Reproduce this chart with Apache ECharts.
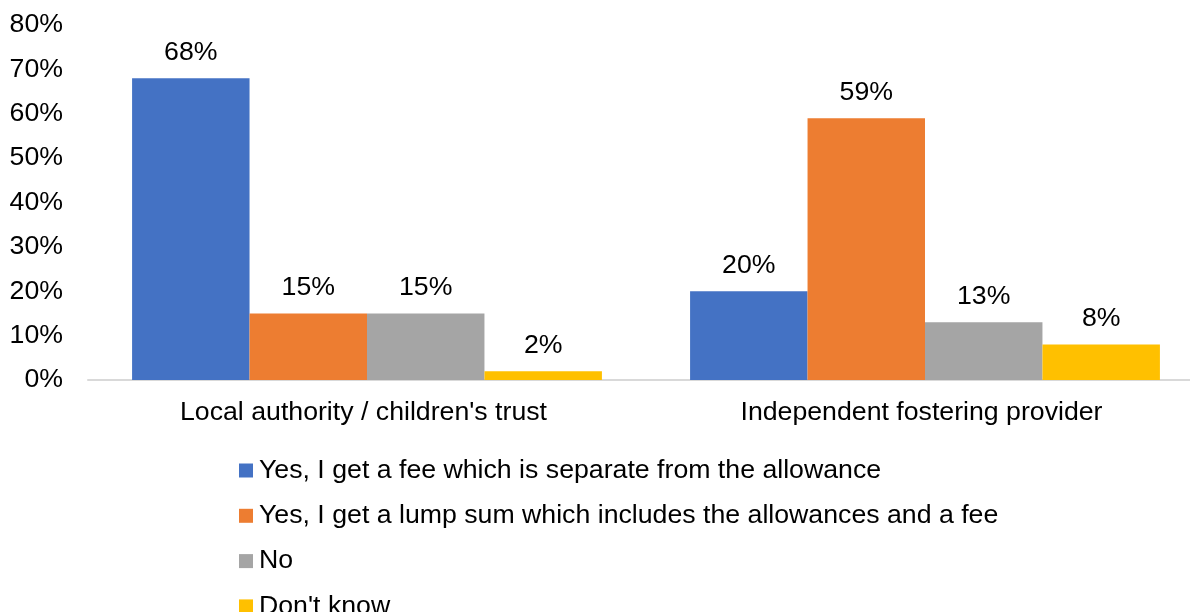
<!DOCTYPE html>
<html>
<head>
<meta charset="utf-8">
<script src="https://cdn.jsdelivr.net/npm/echarts@6/dist/echarts.min.js"></script>
<style>
  html, body { margin: 0; padding: 0; background: #fff; overflow: hidden; }
  #chart { width: 1204px; height: 612px; }
</style>
</head>
<body>
<div id="chart"></div>
<script>
// Provider types along the x axis
const categories = ['Local authority / children\'s trust', 'Independent fostering provider'];

// Share of answers (%) for each response, per provider type
const seriesNames = [
  'Yes, I get a fee which is separate from the allowance',
  'Yes, I get a lump sum which includes the allowances and a fee',
  'No',
  'Don\'t know'
];
const feeSeparate = [68, 20];
const lumpSum = [15, 59];
const noFee = [15, 13];
const dontKnow = [2, 8];

const seriesColors = ['#4472C4', '#ED7D31', '#A5A5A5', '#FFC000'];
const seriesValues = [feeSeparate, lumpSum, noFee, dontKnow];

const FONT = '"Liberation Sans", Arial, sans-serif';
const FS = 26.7;

const chart = echarts.init(document.getElementById('chart'), null, { renderer: 'canvas' });

chart.setOption({
  animation: false,
  textStyle: { fontFamily: FONT },
  grid: { left: 88, top: 25, right: 0, height: 355, containLabel: false },
  legend: {
    orient: 'vertical',
    left: 234,
    top: 452,
    height: 200,
    itemWidth: 14,
    itemHeight: 14,
    itemGap: 18.3,
    icon: 'rect',
    textStyle: { fontFamily: FONT, fontSize: FS, color: '#000', padding: [0, 0, 0, 1] },
    data: seriesNames
  },
  xAxis: {
    type: 'category',
    data: categories,
    axisLine: { show: true, lineStyle: { color: '#D9D9D9', width: 2 } },
    axisTick: { show: false },
    axisLabel: { fontFamily: FONT, fontSize: FS, color: '#000', margin: 19, padding: [0, 7, 0, 0] },
    splitLine: { show: false }
  },
  yAxis: {
    type: 'value',
    min: 0,
    max: 80,
    interval: 10,
    axisLine: { show: false },
    axisTick: { show: false },
    splitLine: { show: false },
    axisLabel: { fontFamily: FONT, fontSize: FS, color: '#000', margin: 25, formatter: '{value}%' }
  },
  series: seriesNames.map((name, i) => ({
    name: name,
    type: 'bar',
    data: seriesValues[i],
    barGap: '0%',
    barCategoryGap: '15.8%',
    itemStyle: { color: seriesColors[i] },
    label: {
      show: true,
      position: 'top',
      distance: 12,
      fontFamily: FONT,
      fontSize: FS,
      color: '#000',
      formatter: '{c}%'
    }
  }))
});
</script>
</body>
</html>
